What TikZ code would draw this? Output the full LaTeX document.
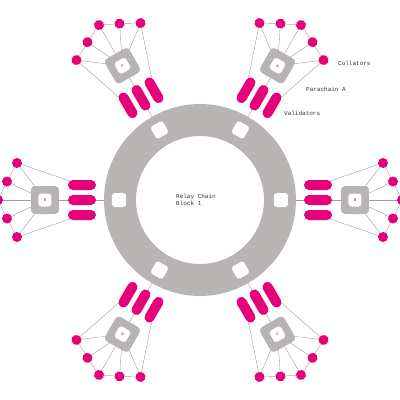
\documentclass[tikz,border=0pt]{standalone}
\usepackage{fontspec}
\setmonofont{Liberation Mono}
\definecolor{dotpink}{HTML}{E6007A}
\definecolor{relaygrey}{HTML}{B8B4B4}
\definecolor{wirecol}{HTML}{9C9C9C}
\definecolor{inkcol}{HTML}{333333}
\usetikzlibrary{backgrounds}

\begin{document}
\begin{tikzpicture}[x=1pt, y=1pt,
  relay/.style={circle, draw=relaygrey, line width=32pt, minimum size=160pt, inner sep=0pt},
  slot/.style={fill=white, rounded corners=3pt, minimum size=14pt, inner sep=0pt},
  chainsq/.style={fill=relaygrey, rounded corners=4pt, minimum size=28pt, inner sep=0pt},
  chainin/.style={fill=white, rounded corners=3pt, minimum size=13pt, inner sep=0pt},
  pill/.style={fill=dotpink, rounded corners=5pt, minimum width=28pt, minimum height=10pt, inner sep=0pt},
  collator/.style={circle, fill=dotpink, minimum size=10pt, inner sep=0pt},
  wire/.style={draw=wirecol, line width=0.4pt},
  tag/.style={font=\ttfamily\fontsize{6}{7}\selectfont, text=inkcol, anchor=west, inner sep=0pt},
]
\useasboundingbox (-200,-200) rectangle (200,200);
\clip (-200,-200) rectangle (200,200);

\node[relay] (relay) at (0,0) {};
\node[tag, align=left] (relaytxt) at (-24,0) {Relay Chain\\Block 1};

\foreach \a/\l in {60/A, 0/B, 300/C, 240/D, 180/E, 120/F} {
  \node[slot, rotate=\a] (slot\l) at (\a:81) {};
  \begin{scope}[rotate=\a, transform shape]
    \node[chainsq] (sq\l) at (155,0) {};
    \node[chainin] (in\l) at (sq\l) {};
    \node[font=\ttfamily\fontsize{4}{4}\selectfont, text=inkcol, inner sep=0pt, rotate=-\a] (lab\l) at (sq\l) {\l};
    \foreach \i/\y in {1/15, 2/0, 3/-15}
      \node[pill] (val\l\i) at (118,\y) {};
    \foreach \i/\x/\y in {1/183/37, 2/193/18.5, 3/202/0, 4/193/-18.5, 5/183/-37}
      \node[collator] (col\l\i) at (\x,\y) {};
  \end{scope}
  \begin{pgfonlayer}{background}
    \draw[wire] (relay.\a) -- (val\l2.center) (val\l2.center) -- (sq\l.center);
    \draw[wire] (col\l1.center) -- (val\l1.center) (col\l5.center) -- (val\l3.center);
    \foreach \i in {1,...,5}
      \draw[wire] (col\l\i.center) -- (sq\l.center);
    \draw[wire] (col\l1.center) \foreach \i in {2,...,5} { -- (col\l\i.center) };
  \end{pgfonlayer}
}

\node[tag] (lcol) at (138,137) {Collators};
\node[tag] (lpara) at (106,111) {Parachain A};
\node[tag] (lval) at (84,87) {Validators};
\end{tikzpicture}
\end{document}
